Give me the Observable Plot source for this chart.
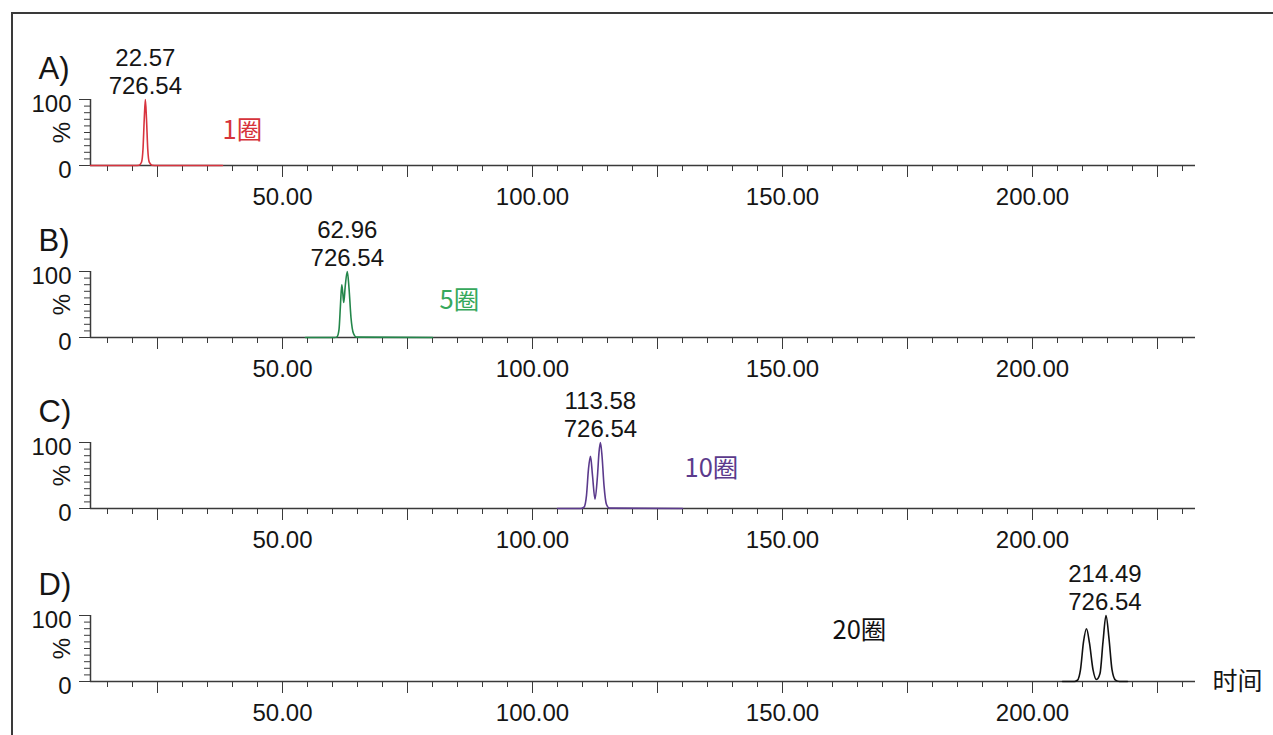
<!DOCTYPE html>
<html>
<head>
<meta charset="utf-8">
<script src="https://cdn.jsdelivr.net/npm/d3@7"></script>
<script src="https://cdn.jsdelivr.net/npm/@observablehq/plot@0.6"></script>
<style>
  html, body { margin: 0; padding: 0; background: #fff; overflow: hidden; }
  #wrap { position: relative; width: 1273px; height: 735px; }
  .panel { position: absolute; left: 0; }
  #border { position: absolute; left: 11px; top: 12px; width: 1300px; height: 800px;
            border-left: 2px solid #3a3a3a; border-top: 2px solid #3a3a3a; z-index: 5; pointer-events: none; }
</style>
</head>
<body>
<div id="wrap"><div id="border"></div></div>
<script>
// ---------- data ----------
const panelIds = ["A)", "B)", "C)", "D)"];
const cycleLabels = ["1圈", "5圈", "10圈", "20圈"];
const peakTimes = ["22.57", "62.96", "113.58", "214.49"];
const peakMass = ["726.54", "726.54", "726.54", "726.54"];

// chromatogram A (1 cycle)
const timeA = [11.6, 20.5, 21.3, 21.8, 22.1, 22.35, 22.57, 22.8, 23.05, 23.35, 23.9, 25.0, 38.0];
const intA  = [0,    0,    0.5,  5,    25,   70,    100,   70,   25,    5,     0.5,  0,    0];
// chromatogram B (5 cycles)
const timeB = [54.6, 60.4, 60.9, 61.3, 61.6, 61.85, 62.05, 62.25, 62.55, 62.96, 63.3, 63.7, 64.2, 64.8, 80.0];
const intB  = [0,    0,    1,    12,   50,   80,    68,    53,    78,    100,   75,   30,   6,    0.5,  0];
// chromatogram C (10 cycles)
const timeC = [105.0, 109.7, 110.3, 110.8, 111.2, 111.6, 112.0, 112.5, 113.0, 113.3, 113.58, 113.9, 114.3, 114.8, 115.4, 130.0];
const intC  = [0,     0,     2,     20,    60,    79,    50,    14,    50,    85,    100,    80,    35,    6,     0.5,   0];
// chromatogram D (20 cycles)
const timeD = [206.0, 208.4, 209.0, 209.6, 210.2, 210.8, 211.4, 212.1, 212.8, 213.5, 214.1, 214.7, 215.3, 215.9, 216.6, 217.4, 219.0];
const intD  = [0,     0,     2,     18,    60,    80,    58,    18,    3,     12,    60,    100,   65,    18,    2,     0,     0];

// series label anchors (time, %)
const cycleLabelTime = [38.0, 81.4, 130.4, 160.0];
const cycleLabelPct  = [53, 55, 60, 77];

// axes
const xDomain = [11.6, 232.6];
const xMinorTicks = d3.range(15, 232, 5);
const xMajorTicks = [25, 50, 75, 100, 125, 150, 175, 200, 225];
const xLabelTicks = [50, 100, 150, 200];
const yMinorTicks = [0, 10, 20, 30, 40, 50, 60, 70, 80, 90, 100];
const yLabelTicks = [0, 100];
const xAxisTitle = "时间";

// ---------- styling / layout ----------
const lineColors  = ["#d8343f", "#23864a", "#5b3a8c", "#111111"];
const labelColors = ["#d6333b", "#36a85c", "#5b3a8c", "#111111"];
const axisColor = "#3a3a3a";
const textColor = "#151515";
const numFont = "'Liberation Sans', Arial, sans-serif";
const cjkFont = "'Noto Sans CJK SC', sans-serif";
const layout = [
  {top: 0,   mt: 99, mb: 45},
  {top: 210, mt: 61, mb: 45},
  {top: 382, mt: 60, mb: 45},
  {top: 553, mt: 62, mb: 54}
];
const traces = [[timeA, intA], [timeB, intB], [timeC, intC], [timeD, intD]];
const plotH = 66;

const wrap = document.getElementById("wrap");

traces.forEach(([ts, vs], i) => {
  const L = layout[i];
  const data = ts.map((t, k) => ({t, v: vs[k]}));
  const marks = [
    // axis lines
    Plot.ruleY([0], {stroke: axisColor, strokeWidth: 1.5}),
    Plot.ruleX([xDomain[0]], {y1: 0, y2: 100, stroke: axisColor, strokeWidth: 1.5}),
    // y ticks
    Plot.axisY({ticks: yMinorTicks, tickSize: 6, tickFormat: () => "", label: null, stroke: axisColor}),
    Plot.axisY({ticks: yLabelTicks, tickSize: 11, tickFormat: () => "", label: null, stroke: axisColor}),
    Plot.axisY({ticks: yLabelTicks, tickSize: 0, tickPadding: 19, dy: 5, label: null, fontSize: 24, fill: textColor}),
    // x ticks
    Plot.axisX({ticks: xMinorTicks, tickSize: 6, tickFormat: () => "", label: null, stroke: axisColor}),
    Plot.axisX({ticks: xMajorTicks, tickSize: 12, tickFormat: () => "", label: null, stroke: axisColor}),
    Plot.axisX({ticks: xLabelTicks, tickSize: 0, tickPadding: 22, tickFormat: d => d.toFixed(2), label: null, fontSize: 24, fill: textColor}),
    // trace
    Plot.line(data, {x: "t", y: "v", stroke: lineColors[i], strokeWidth: 1.6, curve: "monotone-x"}),
    // peak annotation
    Plot.text([0], {x: () => +peakTimes[i], y: () => 100, text: () => peakTimes[i] + "\n" + peakMass[i],
      lineAnchor: "bottom", dy: -6, lineHeight: 1.15, fontSize: 24, fill: textColor}),
    // panel id
    Plot.text([panelIds[i]], {frameAnchor: "top-left", dx: -52, dy: -43, textAnchor: "start", fontSize: 31, fill: textColor}),
    // % label
    Plot.text(["%"], {frameAnchor: "left", dx: -28, rotate: -90, textAnchor: "middle", lineAnchor: "middle", fontSize: 24, fill: textColor}),
    // cycle label
    Plot.text([cycleLabels[i]], {x: () => cycleLabelTime[i], y: () => cycleLabelPct[i], textAnchor: "start",
      fontFamily: cjkFont, fontSize: 25.5, fill: labelColors[i]})
  ];
  if (i === 3) {
    marks.push(Plot.text([xAxisTitle], {x: () => 236, y: () => 0, textAnchor: "start", fontFamily: cjkFont, fontSize: 25, fill: textColor}));
  }
  const chart = Plot.plot({
    width: 1273,
    height: L.mt + plotH + L.mb,
    marginLeft: 90, marginRight: 78, marginTop: L.mt, marginBottom: L.mb,
    x: {domain: xDomain, label: null},
    y: {domain: [0, 100], label: null},
    style: {background: "transparent", fontFamily: numFont, color: axisColor, overflow: "visible"},
    marks
  });
  chart.classList.add("panel");
  chart.style.top = L.top + "px";
  chart.style.position = "absolute";
  wrap.appendChild(chart);
});
</script>
</body>
</html>
